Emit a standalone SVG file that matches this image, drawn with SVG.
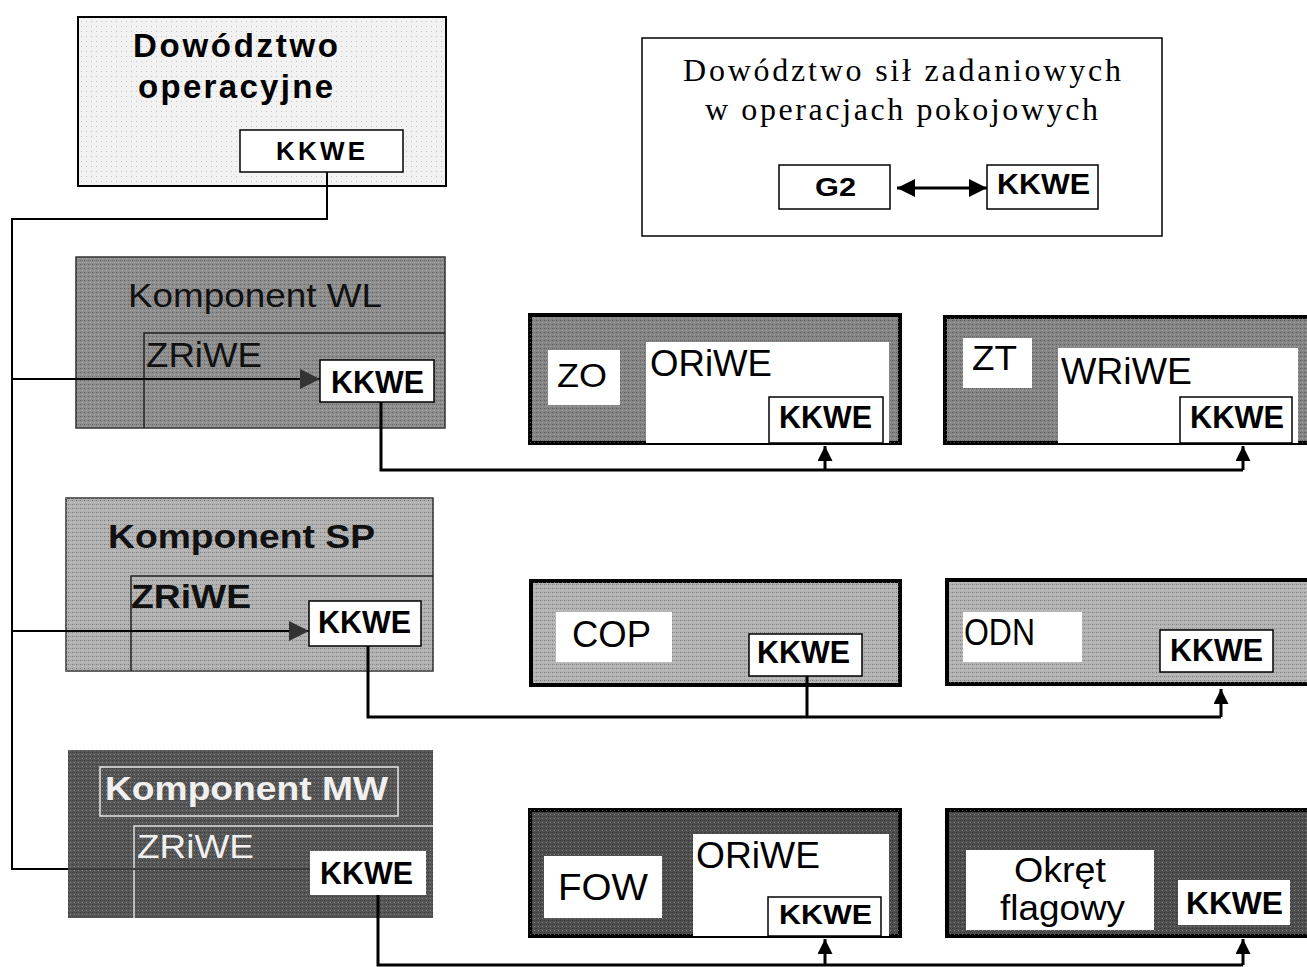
<svg xmlns="http://www.w3.org/2000/svg" width="1307" height="967" viewBox="0 0 1307 967">
  <defs>
    <style>
      .sans { font-family: "Liberation Sans", Arial, sans-serif; }
      .serif { font-family: "Liberation Serif", "Times New Roman", serif; }
      .b { font-weight: bold; }
      .wbox { fill: #ffffff; stroke: #000; stroke-width: 1.5; }
      .wfill { fill: #ffffff; }
      .unit { stroke: #000; stroke-width: 4; }
      .wire { fill: none; stroke: #000; stroke-width: 2; }
      .wire3 { fill: none; stroke: #000; stroke-width: 3; }
      .kk { font-size: 31px; font-weight: bold; }
      .lbl { font-size: 36px; }
    </style>
    <marker id="ah" viewBox="0 0 10 10" refX="10" refY="5" markerWidth="6" markerHeight="6" orient="auto-start-reverse" markerUnits="strokeWidth">
      <path d="M0,0 L10,5 L0,10 z" fill="#000"/>
    </marker>
    <marker id="ahs" viewBox="0 0 10 10" refX="10" refY="5" markerWidth="5" markerHeight="5" orient="auto" markerUnits="strokeWidth">
      <path d="M0,0 L10,5 L0,10 z" fill="#000"/>
    </marker>
    <marker id="ahg" viewBox="0 0 10 10" refX="10" refY="5" markerWidth="12" markerHeight="10" orient="auto" markerUnits="strokeWidth">
      <path d="M0,0 L10,5 L0,10 z" fill="#333"/>
    </marker>
    <pattern id="grain" width="4" height="4" patternUnits="userSpaceOnUse">
      <rect x="0" y="0" width="1" height="1" fill="#000" opacity="0.3"/>
      <rect x="2" y="2" width="1" height="1" fill="#fff" opacity="0.3"/>
      <rect x="2" y="0" width="1" height="1" fill="#000" opacity="0.15"/>
    </pattern>
    <pattern id="dots" width="5" height="5" patternUnits="userSpaceOnUse">
      <rect width="5" height="5" fill="#f2f2f2"/>
      <rect x="1" y="1" width="1" height="1" fill="#c4c4c4"/>
    </pattern>
  </defs>

  <rect width="1307" height="967" fill="#ffffff"/>

  <!-- operational command -->
  <g id="dowodztwo-operacyjne">
    <rect x="78" y="17" width="368" height="169" fill="url(#dots)" stroke="#000" stroke-width="2"/>
    <text class="sans b" x="133" y="57" font-size="33" textLength="205" lengthAdjust="spacing">Dowództwo</text>
    <text class="sans b" x="138" y="98" font-size="33" textLength="195" lengthAdjust="spacing">operacyjne</text>
    <rect class="wbox" x="240" y="130" width="163" height="42"/>
    <text class="sans b" x="276" y="160" font-size="26" textLength="89" lengthAdjust="spacing">KKWE</text>
  </g>

  <!-- task force command -->
  <g id="dowodztwo-sil-zadaniowych">
    <rect x="642" y="38" width="520" height="198" fill="#fff" stroke="#000" stroke-width="1.5"/>
    <text class="serif" x="683" y="81" font-size="32" textLength="438" lengthAdjust="spacing">Dowództwo sił zadaniowych</text>
    <text class="serif" x="705" y="120" font-size="32" textLength="393" lengthAdjust="spacing">w operacjach pokojowych</text>
    <rect class="wbox" x="779" y="165" width="111" height="44"/>
    <text class="sans b" x="815" y="196" font-size="26" textLength="41" lengthAdjust="spacingAndGlyphs">G2</text>
    <rect class="wbox" x="987" y="165" width="111" height="44"/>
    <text class="sans b" x="997" y="194" font-size="29" textLength="93" lengthAdjust="spacingAndGlyphs">KKWE</text>
  </g>

  <!-- land component -->
  <g id="komponent-wl">
    <rect x="76" y="257" width="369" height="171" fill="#8e8e8e" stroke="#333" stroke-width="1.5"/>
    <rect x="76" y="257" width="369" height="171" fill="url(#grain)"/>
    <text class="sans" x="128" y="307" font-size="34" fill="#111" textLength="254" lengthAdjust="spacingAndGlyphs">Komponent WL</text>
    <polyline points="144,428 144,333 445,333" fill="none" stroke="#222" stroke-width="1.5"/>
    <text class="sans" x="146" y="367" font-size="35" fill="#111" textLength="116" lengthAdjust="spacingAndGlyphs">ZRiWE</text>
    <rect class="wbox" x="320" y="360" width="114" height="42"/>
    <text class="sans kk" x="331" y="393" textLength="93" lengthAdjust="spacingAndGlyphs">KKWE</text>
  </g>

  <g id="zo-oriwe">
    <rect class="unit" x="530" y="315" width="370" height="128" fill="#858585"/>
    <rect x="530" y="315" width="370" height="128" fill="url(#grain)"/>
    <rect class="wfill" x="548" y="350" width="72" height="55"/>
    <text class="sans" x="557" y="387" font-size="34" textLength="50" lengthAdjust="spacingAndGlyphs">ZO</text>
    <rect class="wfill" x="646" y="342" width="243" height="101"/>
    <text class="sans lbl" x="650" y="376" textLength="122" lengthAdjust="spacingAndGlyphs">ORiWE</text>
    <rect class="wbox" x="769" y="397" width="114" height="46"/>
    <text class="sans kk" x="779" y="428" textLength="93" lengthAdjust="spacingAndGlyphs">KKWE</text>
  </g>

  <g id="zt-wriwe">
    <rect class="unit" x="945" y="317" width="366" height="126" fill="#858585"/>
    <rect x="945" y="317" width="366" height="126" fill="url(#grain)"/>
    <rect class="wfill" x="963" y="338" width="69" height="50"/>
    <text class="sans" x="972" y="370" font-size="35" textLength="45" lengthAdjust="spacingAndGlyphs">ZT</text>
    <rect class="wfill" x="1058" y="348" width="240" height="95"/>
    <text class="sans lbl" x="1061" y="384" textLength="131" lengthAdjust="spacingAndGlyphs">WRiWE</text>
    <rect class="wbox" x="1180" y="397" width="112" height="46"/>
    <text class="sans kk" x="1190" y="428" textLength="94" lengthAdjust="spacingAndGlyphs">KKWE</text>
  </g>

  <!-- air component -->
  <g id="komponent-sp">
    <rect x="66" y="498" width="367" height="173" fill="#b2b2b2" stroke="#333" stroke-width="1.5"/>
    <rect x="66" y="498" width="367" height="173" fill="url(#grain)"/>
    <text class="sans b" x="108" y="548" font-size="33" fill="#111" textLength="267" lengthAdjust="spacingAndGlyphs">Komponent SP</text>
    <polyline points="131,671 131,576 433,576" fill="none" stroke="#222" stroke-width="1.5"/>
    <text class="sans b" x="131" y="608" font-size="33" fill="#111" textLength="120" lengthAdjust="spacingAndGlyphs">ZRiWE</text>
    <rect class="wbox" x="309" y="601" width="112" height="45"/>
    <text class="sans kk" x="318" y="633" textLength="93" lengthAdjust="spacingAndGlyphs">KKWE</text>
  </g>

  <g id="cop">
    <rect class="unit" x="531" y="581" width="369" height="104" fill="#b3b3b3"/>
    <rect x="531" y="581" width="369" height="104" fill="url(#grain)"/>
    <rect class="wfill" x="556" y="612" width="116" height="50"/>
    <text class="sans lbl" x="572" y="647" textLength="79" lengthAdjust="spacingAndGlyphs">COP</text>
    <rect class="wbox" x="749" y="634" width="113" height="42"/>
    <text class="sans kk" x="757" y="663" textLength="93" lengthAdjust="spacingAndGlyphs">KKWE</text>
  </g>

  <g id="odn">
    <rect class="unit" x="947" y="580" width="364" height="104" fill="#b3b3b3"/>
    <rect x="947" y="580" width="364" height="104" fill="url(#grain)"/>
    <rect class="wfill" x="963" y="612" width="119" height="50"/>
    <text class="sans lbl" x="964" y="645" textLength="71" lengthAdjust="spacingAndGlyphs">ODN</text>
    <rect class="wbox" x="1160" y="630" width="113" height="42"/>
    <text class="sans kk" x="1170" y="661" textLength="93" lengthAdjust="spacingAndGlyphs">KKWE</text>
  </g>

  <!-- naval component -->
  <g id="komponent-mw">
    <rect x="68" y="750" width="365" height="168" fill="#565656"/>
    <rect x="68" y="750" width="365" height="168" fill="url(#grain)"/>
    <rect x="100" y="767" width="298" height="49" fill="none" stroke="#e6e6e6" stroke-width="1.5"/>
    <text class="sans b" x="105" y="800" font-size="33" fill="#f0f0f0" textLength="283" lengthAdjust="spacingAndGlyphs">Komponent MW</text>
    <polyline points="134,918 134,826 433,826" fill="none" stroke="#dcdcdc" stroke-width="1.5"/>
    <text class="sans" x="137" y="858" font-size="34" fill="#f0f0f0" textLength="117" lengthAdjust="spacingAndGlyphs">ZRiWE</text>
    <rect class="wfill" x="310" y="851" width="116" height="44"/>
    <text class="sans kk" x="320" y="884" textLength="93" lengthAdjust="spacingAndGlyphs">KKWE</text>
  </g>

  <g id="fow-oriwe">
    <rect class="unit" x="530" y="810" width="370" height="126" fill="#4f4f4f"/>
    <rect x="530" y="810" width="370" height="126" fill="url(#grain)"/>
    <rect class="wfill" x="544" y="856" width="118" height="62"/>
    <text class="sans lbl" x="558" y="900" textLength="90" lengthAdjust="spacingAndGlyphs">FOW</text>
    <rect class="wfill" x="693" y="834" width="196" height="102"/>
    <text class="sans lbl" x="696" y="868" textLength="124" lengthAdjust="spacingAndGlyphs">ORiWE</text>
    <rect class="wbox" x="768" y="897" width="113" height="39"/>
    <text class="sans b" x="779" y="924" font-size="28" textLength="93" lengthAdjust="spacingAndGlyphs">KKWE</text>
  </g>

  <g id="okret-flagowy">
    <rect class="unit" x="947" y="810" width="364" height="126" fill="#4f4f4f"/>
    <rect x="947" y="810" width="364" height="126" fill="url(#grain)"/>
    <rect class="wfill" x="966" y="850" width="188" height="80"/>
    <text class="sans" x="1014" y="882" font-size="35" textLength="92" lengthAdjust="spacingAndGlyphs">Okręt</text>
    <text class="sans" x="1000" y="920" font-size="35" textLength="125" lengthAdjust="spacingAndGlyphs">flagowy</text>
    <rect class="wfill" x="1178" y="880" width="112" height="45"/>
    <text class="sans kk" x="1186" y="914" textLength="97" lengthAdjust="spacingAndGlyphs">KKWE</text>
  </g>

  <!-- connectors -->
  <g id="connectors">
    <!-- operational HQ bus down the left side -->
    <polyline class="wire" points="327,172 327,219 12,219 12,870"/>
    <line class="wire" x1="12" y1="379" x2="320" y2="379" marker-end="url(#ahg)"/>
    <line class="wire" x1="12" y1="631" x2="309" y2="631" marker-end="url(#ahg)"/>
    <line class="wire" x1="12" y1="869" x2="68" y2="869"/>
    <line x1="68" y1="869" x2="310" y2="869" stroke="#3c3c3c" stroke-width="2"/>
    <!-- task force G2 <-> KKWE -->
    <line x1="897" y1="188" x2="987" y2="188" stroke="#000" stroke-width="3" marker-start="url(#ah)" marker-end="url(#ah)"/>
    <!-- land component distribution -->
    <polyline class="wire3" points="381,402 381,470 1243,470"/>
    <line class="wire3" x1="825" y1="470" x2="825" y2="446" marker-end="url(#ahs)"/>
    <line class="wire3" x1="1243" y1="470" x2="1243" y2="446" marker-end="url(#ahs)"/>
    <!-- air component distribution -->
    <polyline class="wire3" points="368,646 368,717 1221,717"/>
    <line class="wire3" x1="807" y1="717" x2="807" y2="676"/>
    <line class="wire3" x1="1221" y1="717" x2="1221" y2="689" marker-end="url(#ahs)"/>
    <!-- naval component distribution -->
    <polyline class="wire3" points="378,895 378,965 1243,965"/>
    <line class="wire3" x1="825" y1="965" x2="825" y2="939" marker-end="url(#ahs)"/>
    <line class="wire3" x1="1243" y1="965" x2="1243" y2="939" marker-end="url(#ahs)"/>
  </g>
</svg>
